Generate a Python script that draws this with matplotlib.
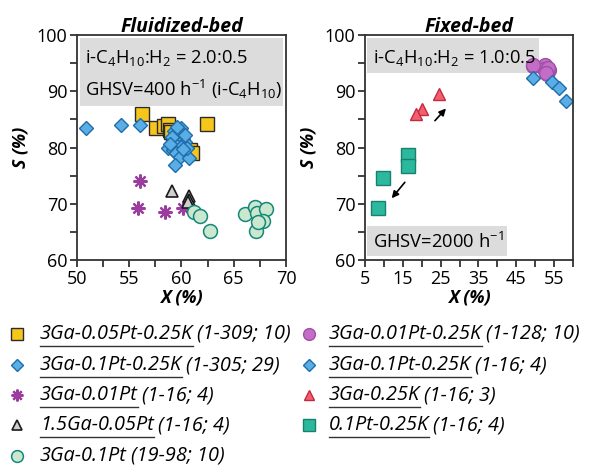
import matplotlib
matplotlib.use('Agg')
import matplotlib.pyplot as plt
from matplotlib.lines import Line2D
from matplotlib.patches import Rectangle

plt.rcParams['font.family'] = ['Open Sans', 'DejaVu Sans']
plt.rcParams['mathtext.fontset'] = 'custom'
plt.rcParams['mathtext.rm'] = 'Open Sans'
plt.rcParams['mathtext.it'] = 'Open Sans:italic'
plt.rcParams['mathtext.bf'] = 'Open Sans:bold'

# --- Fluidized-bed data ---
sq_x = [56.2, 57.6, 58.3, 58.7, 58.9, 59.2, 60.8, 61.0, 62.4, 59.0]
sq_y = [86.0, 83.4, 83.8, 84.2, 83.2, 82.6, 79.5, 79.0, 84.2, 82.8]

dia_x = [50.9, 54.2, 56.0, 59.3, 60.0, 59.7, 59.4, 59.8, 60.1, 59.5, 59.9, 60.3,
         59.2, 59.6, 60.0, 58.7, 59.2, 60.2, 59.5, 59.9, 60.7, 59.4, 59.8, 60.3,
         59.1, 59.6, 60.5, 58.9, 60.1]
dia_y = [83.4, 84.0, 84.0, 83.0, 83.5, 82.6, 82.2, 82.0, 81.6, 81.3, 81.0, 80.9,
         80.5, 80.2, 80.1, 79.9, 79.6, 79.3, 79.0, 78.4, 78.1, 76.9, 82.9, 82.3,
         81.8, 83.6, 80.0, 80.6, 79.7]

star_x = [56.0, 55.8, 58.4, 60.1]
star_y = [74.1, 69.2, 68.5, 69.2]

tri_x = [59.1, 60.7, 60.7, 60.6]
tri_y = [72.3, 71.3, 70.7, 70.3]

circ_x = [61.2, 61.8, 62.7, 66.1, 67.0, 67.2, 68.1, 67.8, 67.1, 67.3]
circ_y = [68.5, 67.8, 65.2, 68.2, 69.5, 68.3, 69.0, 67.0, 65.2, 66.8]

# --- Fixed-bed data ---
pc_x = [49.5, 52.8, 53.7, 53.1, 52.5, 53.0, 52.3, 53.5, 52.8, 49.3]
pc_y = [94.5, 94.4, 93.8, 93.2, 94.6, 93.0, 94.0, 94.2, 93.3, 94.7]

fd_x = [49.3, 54.5, 56.3, 58.2]
fd_y = [92.3, 91.7, 90.5, 88.2]

rt_x = [24.6, 20.1, 18.6]
rt_y = [89.5, 86.8, 85.9]

ts_x = [16.4, 16.4, 9.8, 8.5]
ts_y = [78.7, 76.7, 74.5, 69.2]

fig = plt.figure(figsize=(5.89, 4.68), dpi=100)
ax1 = fig.add_axes([0.1307, 0.4444, 0.3548, 0.4808])
ax2 = fig.add_axes([0.6197, 0.4444, 0.3531, 0.4808])

yellow = dict(marker='s', ms=9.5, mfc='#F6C61B', mec='#2b2b2b', mew=1.0, ls='none')
blue = dict(marker='D', ms=7.5, mfc='#5AAEE5', mec='#1E6DAA', mew=1.0, ls='none')
star = dict(marker=(8, 2, 0), ms=10, mec='#9A3D9E', mew=1.6, ls='none')
grey = dict(marker='^', ms=8, mfc='#CFCFCF', mec='#1a1a1a', mew=1.2, ls='none')
green = dict(marker='o', ms=10, mfc='#C9E8CF', mec='#17877A', mew=1.1, ls='none')
purple = dict(marker='o', ms=10, mfc='#C46DC6', mec='#A04FA6', mew=1.0, ls='none')
red = dict(marker='^', ms=8.5, mfc='#F2606F', mec='#C3293F', mew=1.0, ls='none')
teal = dict(marker='s', ms=10, mfc='#2CB89C', mec='#17806E', mew=1.0, ls='none')

ax1.plot(sq_x, sq_y, **yellow)
ax1.plot(dia_x, dia_y, **blue)
ax1.plot(star_x, star_y, **star)
ax1.plot(tri_x, tri_y, **grey)
ax1.plot(circ_x, circ_y, **green)

ax2.plot(pc_x, pc_y, **purple)
ax2.plot(fd_x, fd_y, **blue)
ax2.plot(rt_x, rt_y, **red)
ax2.plot(ts_x, ts_y, **teal)

ax2.annotate('', xy=(26.9, 87.3), xytext=(23.0, 84.4),
             arrowprops=dict(arrowstyle='-|>', color='k', lw=1.2, mutation_scale=10))
ax2.annotate('', xy=(11.6, 70.6), xytext=(16.0, 74.2),
             arrowprops=dict(arrowstyle='-|>', color='k', lw=1.2, mutation_scale=10))

fs = 13.2
# grey boxes
ax1.add_patch(Rectangle((50.3, 87.3), 19.4, 12.2, fc='#DCDCDC', ec='none', zorder=0))
ax1.text(50.8, 96.0, r'i-C$_4$H$_{10}$:H$_2$ = 2.0:0.5', fontsize=fs, va='center')
ax1.text(50.8, 90.4, r'GHSV=400 h$^{-1}$ (i-C$_4$H$_{10}$)', fontsize=fs, va='center')

ax2.add_patch(Rectangle((5.5, 93.3), 45.5, 6.2, fc='#DCDCDC', ec='none', zorder=0))
ax2.text(7.0, 96.0, r'i-C$_4$H$_{10}$:H$_2$ = 1.0:0.5', fontsize=fs, va='center')
ax2.add_patch(Rectangle((5.5, 60.7), 37.0, 5.4, fc='#DCDCDC', ec='none', zorder=0))
ax2.text(7.0, 63.3, r'GHSV=2000 h$^{-1}$', fontsize=fs, va='center')

for ax in (ax1, ax2):
    ax.set_ylim(60, 100)
    ax.set_yticks([60, 70, 80, 90, 100])
    ax.set_yticks([65, 75, 85, 95], minor=True)
    ax.tick_params(which='both', direction='out', width=1.3, color='#333333',
                   labelsize=13, pad=2)
    ax.tick_params(which='major', length=5)
    ax.tick_params(which='minor', length=5)
    for s in ax.spines.values():
        s.set_linewidth(1.3)
        s.set_color('#333333')
    ax.set_xlabel('X (%)', fontsize=12.8, fontweight='bold', style='italic', labelpad=0.5)
    ax.set_ylabel('S (%)', fontsize=12.8, fontweight='bold', style='italic', labelpad=5)

ax1.set_xlim(50, 70)
ax1.set_xticks([50, 55, 60, 65, 70])
ax1.set_xticks([52.5, 57.5, 62.5, 67.5], minor=True)
ax1.text(0.5, 1.012, 'Fluidized-bed', transform=ax1.transAxes, ha='center', va='baseline',
         fontsize=14, fontweight='bold', style='italic')

ax2.set_xlim(5, 60)
ax2.set_xticks([5, 15, 25, 35, 45, 55])
ax2.set_xticks([10, 20, 30, 40, 50, 60], minor=True)
ax2.text(0.5, 1.012, 'Fixed-bed', transform=ax2.transAxes, ha='center', va='baseline',
         fontsize=14, fontweight='bold', style='italic')

# custom legend with underlined catalyst names
left_names = ['3Ga-0.05Pt-0.25K', '3Ga-0.1Pt-0.25K', '3Ga-0.01Pt', '1.5Ga-0.05Pt', '3Ga-0.1Pt']
left_tails = ['(1-309; 10)', '(1-305; 29)', '(1-16; 4)', '(1-16; 4)', '(19-98; 10)']
left_styles = [yellow, blue, star, grey, green]
left_underline = [True, True, True, True, False]
right_names = ['3Ga-0.01Pt-0.25K', '3Ga-0.1Pt-0.25K', '3Ga-0.25K', '0.1Pt-0.25K']
right_tails = ['(1-128; 10)', '(1-16; 4)', '(1-16; 3)', '(1-16; 4)']
right_styles = [purple, blue, red, teal]

W, H = 589.0, 468.0
row_y = [334, 365, 395, 425, 456]
fig.canvas.draw()
renderer = fig.canvas.get_renderer()


def legend_row(mx, tx, y, name, tail, style, underline=True):
    yf = 1 - y / H
    st = dict(style)
    st['ms'] = st['ms'] * 0.85
    fig.add_artist(Line2D([mx / W], [yf], transform=fig.transFigure, **st))
    t = fig.text(tx / W, yf, name, fontsize=14.3, style='italic', va='center')
    bb = t.get_window_extent(renderer)
    fig.text((bb.x1 + 4) / W, yf, tail, fontsize=14.3, style='italic', va='center')
    if underline:
        uy = yf - 12.0 / H
        fig.add_artist(Line2D([tx / W, bb.x1 / W], [uy, uy], transform=fig.transFigure,
                              color='#333333', lw=1.0))


for i in range(5):
    legend_row(17, 40, row_y[i], left_names[i], left_tails[i], left_styles[i], left_underline[i])
for i in range(4):
    legend_row(309, 329, row_y[i], right_names[i], right_tails[i], right_styles[i])

plt.savefig('out.png', dpi=100)
